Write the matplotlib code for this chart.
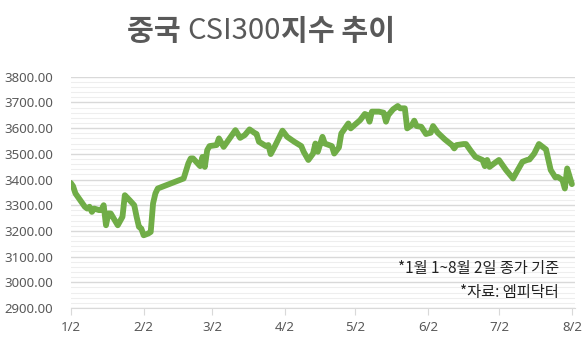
import matplotlib
matplotlib.use("Agg")
import matplotlib.pyplot as plt
import numpy as np
import pandas as pd

plt.rcParams['font.family'] = ['Noto Sans CJK KR', 'DejaVu Sans']

# CSI300 closing values (2024)
dates = ["01-02", "01-03", "01-04", "01-06", "01-08", "01-09", "01-10", "01-11",
         "01-12", "01-14", "01-15", "01-16", "01-17", "01-18", "01-19", "01-22",
         "01-24", "01-25", "01-27", "01-29", "01-30", "01-31", "02-01", "02-02",
         "02-04", "02-05", "02-06", "02-07", "02-08", "02-19", "02-21", "02-22",
         "02-23", "02-26", "02-27", "02-28", "02-29", "03-01", "03-04", "03-05",
         "03-07", "03-10", "03-12", "03-14", "03-16", "03-18", "03-20", "03-21",
         "03-22", "03-25", "03-26", "03-27", "03-29", "04-01", "04-03", "04-06",
         "04-09", "04-10", "04-12", "04-14", "04-15", "04-16", "04-18", "04-19",
         "04-22", "04-23", "04-25", "04-26", "04-29", "04-30", "05-04", "05-06",
         "05-07", "05-08", "05-09", "05-12", "05-14", "05-15", "05-16", "05-18",
         "05-20", "05-21", "05-23", "05-24", "05-26", "05-27", "05-28", "05-30",
         "06-01", "06-03", "06-04", "06-06", "06-09", "06-12", "06-13", "06-14",
         "06-17", "06-18", "06-20", "06-22", "06-25", "06-26", "06-27", "06-28",
         "06-30", "07-02", "07-05", "07-08", "07-10", "07-12", "07-14", "07-15",
         "07-17", "07-19", "07-22", "07-24", "07-26", "07-27", "07-29", "07-30",
         "07-31", "08-02"]
values = [3387, 3374, 3346, 3320, 3294, 3287, 3294, 3274,
          3287, 3281, 3281, 3300, 3222, 3268, 3268, 3222,
          3255, 3339, 3320, 3300, 3255, 3216, 3209, 3183,
          3190, 3196, 3307, 3346, 3365, 3404, 3463, 3482,
          3482, 3452, 3488, 3449, 3514, 3530, 3534, 3560,
          3527, 3566, 3592, 3562, 3573, 3595, 3582, 3577,
          3547, 3530, 3534, 3499, 3534, 3590, 3566, 3547,
          3530, 3508, 3476, 3501, 3540, 3508, 3566, 3540,
          3530, 3501, 3525, 3579, 3618, 3599, 3631, 3655,
          3651, 3625, 3664, 3664, 3660, 3625, 3651, 3673,
          3686, 3677, 3677, 3599, 3612, 3629, 3608, 3605,
          3577, 3582, 3608, 3582, 3556, 3534, 3521, 3534,
          3538, 3538, 3512, 3488, 3476, 3452, 3476, 3449,
          3463, 3476, 3437, 3404, 3437, 3469, 3476, 3478,
          3501, 3538, 3517, 3437, 3408, 3410, 3398, 3365,
          3443, 3382]

tick_dates = ["01-02", "02-02", "03-02", "04-02", "05-02", "06-02", "07-02", "08-02"]
tick_labels = ["1/2", "2/2", "3/2", "4/2", "5/2", "6/2", "7/2", "8/2"]

x = pd.to_datetime(["2024-" + d for d in dates])
xt = pd.to_datetime(["2024-" + d for d in tick_dates])

fig = plt.figure(figsize=(5.82, 3.37), dpi=100)
ax = fig.add_axes([0.1215, 0.086, 0.8665, 0.6864])

ax.plot(x, values, color="#70AD47", lw=4.2, solid_joinstyle="round",
        solid_capstyle="round", zorder=3)

ax.set_ylim(2900, 3800)
ax.set_xlim(pd.Timestamp("2024-01-02"), pd.Timestamp("2024-08-03 08:00"))
ax.set_yticks(np.arange(2900, 3801, 100))
ax.set_yticks(np.arange(2900, 3801, 20), minor=True)
ax.set_yticklabels([f"{v:.2f}" for v in np.arange(2900, 3801, 100)])
ax.set_xticks(xt)
ax.set_xticklabels(tick_labels)
ax.xaxis.set_minor_locator(plt.NullLocator())

ax.grid(axis="y", which="major", color="#d9d9d9", lw=1)
ax.grid(axis="y", which="minor", color="#eeeeee", lw=0.8)
ax.set_axisbelow(True)
for s in ["top", "right", "left"]:
    ax.spines[s].set_visible(False)
ax.spines["bottom"].set_color("#d9d9d9")
ax.tick_params(axis="y", which="both", length=0, pad=12.5, labelsize=9.5,
               labelcolor="#595959")
ax.tick_params(axis="x", length=5, color="#d9d9d9", pad=4, labelsize=9.5,
               labelcolor="#595959")
for lab in ax.get_yticklabels() + ax.get_xticklabels():
    lab.set_family("Noto Sans")

# title in three pieces: bold hangul, regular latin
fig.canvas.draw()
r = fig.canvas.get_renderer()
parts = [("중국 ", "bold"), ("CSI300", "normal"), ("지수 추이", "bold")]
texts = []
for s, w in parts:
    texts.append(fig.text(0, 0, s, fontsize=21, weight=w, color="#595959",
                          va="center", ha="left"))
widths = [t.get_window_extent(r).width for t in texts]
xpos = 261 - sum(widths) / 2
for t, w in zip(texts, widths):
    t.set_position((xpos / 582, 1 - 31 / 337))
    xpos += w

ax.text(0.968, 0.169, "*1월 1~8월 2일 종가 기준", transform=ax.transAxes,
        ha="right", va="center", fontsize=11, color="#222222")
ax.text(0.968, 0.065, "*자료: 엠피닥터", transform=ax.transAxes,
        ha="right", va="center", fontsize=11, color="#222222")

fig.savefig("out.png", dpi=100)
